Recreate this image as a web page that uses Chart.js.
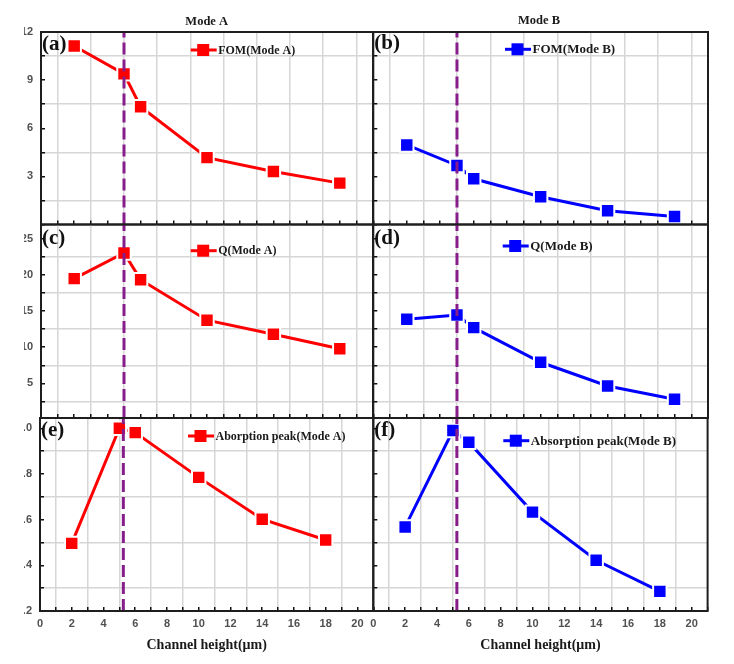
<!DOCTYPE html>
<html>
<head>
<meta charset="UTF-8" />
<title>Mode A / Mode B vs channel height</title>
<script src="https://cdn.jsdelivr.net/npm/chart.js"></script>
<style>
  html, body { margin: 0; padding: 0; background: #fff; }
  #wrap { position: relative; width: 734px; height: 664px; overflow: hidden; }
  #wrap canvas { position: absolute; left: 0; top: 0; }
</style>
</head>
<body>
<div id="wrap">
  <canvas id="pa" width="734" height="664"></canvas>
  <canvas id="pb" width="734" height="664"></canvas>
  <canvas id="pc" width="734" height="664"></canvas>
  <canvas id="pd" width="734" height="664"></canvas>
  <canvas id="pe" width="734" height="664"></canvas>
  <canvas id="pf" width="734" height="664"></canvas>
</div>
<script>
// channel heights (µm)
const heights = [2, 5, 6, 10, 14, 18];

// values
const fomA = [11.13, 9.39, 7.34, 4.17, 3.3, 2.58];
const fomB = [4.96, 3.68, 2.85, 1.73, 0.86, 0.5];
const qA = [19.5, 23.05, 19.36, 13.75, 11.8, 9.78];
const qB = [13.88, 14.47, 12.72, 7.92, 4.64, 2.8];
const absA = [0.496, 1.0, 0.981, 0.785, 0.602, 0.511];
const absB = [0.568, 0.99, 0.939, 0.633, 0.422, 0.286];

// ticks / labels / grid
const xTicksTop = [0, 1, 2, 3, 4, 5, 6, 7, 8, 9, 10, 11, 12, 13, 14, 15, 16, 17, 18, 19, 20];
const xTicksBottom = [0, 1, 2, 3, 4, 5, 6, 7, 8, 9, 10, 11, 12, 13, 14, 15, 16, 17, 18, 19, 20, 21];
const xLabels = [0, 2, 4, 6, 8, 10, 12, 14, 16, 18, 20];
const xGrid = [1, 3, 5, 7, 9, 11, 13, 15, 17, 19];

const fomTicks = [0, 1.5, 3, 4.5, 6, 7.5, 9, 10.5, 12];
const fomLabels = [3, 6, 9, 12];
const fomGrid = [1.5, 4.5, 7.5, 10.5];

const qTicks = [2.5, 5, 7.5, 10, 12.5, 15, 17.5, 20, 22.5, 25];
const qLabels = [5, 10, 15, 20, 25];
const qGrid = [2.5, 7.5, 12.5, 17.5, 22.5];

const absTicks = [0.2, 0.3, 0.4, 0.5, 0.6, 0.7, 0.8, 0.9, 1.0];
const absLabels = [0.2, 0.4, 0.6, 0.8, 1.0];
const absGrid = [0.3, 0.5, 0.7, 0.9];

// marker line (channel height where the peak occurs)
const markTop = 5;
const markBottom = 5.25;

const RED = '#ff0000';
const BLUE = '#0000ff';
const PURPLE = '#861d8a';
const GRID = '#d6d6d6';

// draws frame, panel tag, inline legend and column title
const decor = {
  id: 'decor',
  beforeDraw(chart, args, o) {
    const ctx = chart.ctx;
    ctx.save();
    if (o.clipLeft) {
      ctx.beginPath();
      ctx.rect(o.clipLeft, 0, chart.width, chart.height);
      ctx.clip();
    }
  },
  afterDraw(chart, args, o) {
    const ctx = chart.ctx;
    ctx.restore();
    const a = chart.chartArea;
    ctx.save();
    ctx.strokeStyle = '#1e1e1e';
    ctx.lineWidth = 2;
    ctx.strokeRect(a.left, a.top, a.right - a.left, a.bottom - a.top);

    ctx.fillStyle = '#111';
    ctx.textBaseline = 'middle';
    ctx.textAlign = 'left';
    ctx.font = 'bold 21px "Liberation Serif"';
    ctx.fillText(o.tag, a.left + 1, o.tagY);

    // legend: line + square + text
    ctx.strokeStyle = o.color;
    ctx.lineWidth = 3;
    ctx.beginPath();
    ctx.moveTo(o.lx, o.ly);
    ctx.lineTo(o.lx + 26, o.ly);
    ctx.stroke();
    ctx.fillStyle = o.color;
    ctx.fillRect(o.lx + 6.5, o.ly - 6, 12, 12);
    ctx.fillStyle = '#1a1a1a';
    ctx.font = o.legendFont;
    ctx.fillText(o.legend, o.lx + 27.5, o.ly + 0.5);

    if (o.title) {
      ctx.textAlign = 'center';
      ctx.font = 'bold 12.5px "Liberation Serif"';
      ctx.fillText(o.title, o.tx, o.ty);
    }
    ctx.restore();
  }
};

const panels = [
  { id: 'pa', vals: fomA, color: RED, yTicks: fomTicks, yLabels: fomLabels, yGrid: fomGrid, yMin: 0, yMax: 12,
    box: [41, 32, 373, 224.5], left: true, bottom: false, tag: '(a)', tagY: 44.5,
    legend: 'FOM(Mode A)', lx: 190.7, ly: 50, title: 'Mode A', tx: 206.7, ty: 21.7 },
  { id: 'pb', vals: fomB, color: BLUE, yTicks: fomTicks, yLabels: fomLabels, yGrid: fomGrid, yMin: 0, yMax: 12,
    box: [373.3, 32, 708, 224.5], left: false, bottom: false, tag: '(b)', tagY: 44,
    legend: 'FOM(Mode B)', lx: 505, ly: 49.3, title: 'Mode B', tx: 539, ty: 20.5 },
  { id: 'pc', vals: qA, color: RED, yTicks: qTicks, yLabels: qLabels, yGrid: qGrid, yMin: 0.2, yMax: 27,
    box: [41, 224.5, 373, 418], left: true, bottom: false, tag: '(c)', tagY: 239,
    legend: 'Q(Mode A)', lx: 190.7, ly: 250.7 },
  { id: 'pd', vals: qB, color: BLUE, yTicks: qTicks, yLabels: qLabels, yGrid: qGrid, yMin: 0.2, yMax: 27,
    box: [373.3, 224.5, 708, 418], left: false, bottom: false, tag: '(d)', tagY: 239,
    legend: 'Q(Mode B)', lx: 502.7, ly: 246 },
  { id: 'pe', vals: absA, color: RED, yTicks: absTicks, yLabels: absLabels, yGrid: absGrid, yMin: 0.2, yMax: 1.045,
    box: [40, 418, 373.3, 611], left: true, bottom: true, tag: '(e)', tagY: 430.5,
    legend: 'Aborption peak(Mode A)', lx: 188, ly: 436 },
  { id: 'pf', vals: absB, color: BLUE, yTicks: absTicks, yLabels: absLabels, yGrid: absGrid, yMin: 0.2, yMax: 1.045,
    box: [373.3, 418, 707.6, 611], left: false, bottom: true, tag: '(f)', tagY: 431,
    legend: 'Absorption peak(Mode B)', lx: 503.3, ly: 440.7 }
];

function makePanel(p) {
  const [L, T, R, B] = p.box;
  const yw = p.left ? L : 0;
  const xh = p.bottom ? 49 : 0;
  const xTicks = p.bottom ? xTicksBottom : xTicksTop;
  const xMax = p.bottom ? 21 : 20;
  const markX = p.bottom ? markBottom : markTop;
  const isAbs = p.yTicks === absTicks;

  new Chart(document.getElementById(p.id), {
    type: 'line',
    data: {
      datasets: [{
        data: [{ x: markX, y: p.yMin }, { x: markX, y: p.yMax }],
        borderColor: PURPLE,
        borderWidth: 3,
        borderDash: [12, 5],
        pointRadius: 0,
        order: 0
      }, {
        data: heights.map((h, i) => ({ x: h, y: p.vals[i] })),
        borderColor: p.color,
        backgroundColor: p.color,
        borderWidth: 3,
        tension: 0,
        pointStyle: 'rect',
        pointRadius: 9.5,
        pointBackgroundColor: p.color,
        pointBorderColor: '#ffffff',
        pointBorderWidth: 2,
        order: 1
      }]
    },
    options: {
      responsive: false,
      animation: false,
      devicePixelRatio: 1,
      events: [],
      layout: {
        autoPadding: false,
        padding: { left: L - yw, top: T, right: 734 - R, bottom: 664 - B - xh }
      },
      plugins: {
        legend: { display: false },
        tooltip: { enabled: false },
        decor: {
          clipLeft: p.left ? 24 : 0,
          tag: p.tag, tagY: p.tagY,
          legend: p.legend, lx: p.lx, ly: p.ly, color: p.color,
          legendFont: p.color === RED ? 'bold 12px "Liberation Serif"' : 'bold 13px "Liberation Serif"',
          title: p.title || '', tx: p.tx, ty: p.ty
        }
      },
      scales: {
        x: {
          type: 'linear',
          min: 0,
          max: xMax,
          afterBuildTicks: s => { s.ticks = xTicks.map(v => ({ value: v })); },
          afterFit: s => { s.height = xh; },
          border: { display: false },
          grid: {
            color: c => (c.tick && xGrid.includes(c.tick.value)) ? GRID : 'rgba(0,0,0,0)',
            lineWidth: 1.5,
            tickLength: -4,
            tickColor: '#111',
            tickWidth: 1.5
          },
          ticks: {
            display: p.bottom,
            autoSkip: false,
            maxRotation: 0,
            padding: 10,
            color: '#505050',
            font: { family: 'Liberation Sans', weight: 'bold', size: 11 },
            callback: v => xLabels.includes(v) ? String(v) : ''
          },
          title: {
            display: p.bottom,
            text: 'Channel height(μm)',
            color: '#1a1a1a',
            font: { family: 'Liberation Serif', weight: 'bold', size: 14 },
            padding: { top: 0, bottom: 6.6 }
          }
        },
        y: {
          type: 'linear',
          min: p.yMin,
          max: p.yMax,
          afterBuildTicks: s => { s.ticks = p.yTicks.map(v => ({ value: v })); },
          afterFit: s => { s.width = yw; },
          border: { display: false },
          grid: {
            color: c => (c.tick && p.yGrid.includes(c.tick.value)) ? GRID : 'rgba(0,0,0,0)',
            lineWidth: 1.5,
            tickLength: -4,
            tickColor: '#111',
            tickWidth: 1.5
          },
          ticks: {
            display: p.left,
            autoSkip: false,
            padding: 12,
            color: '#505050',
            font: { family: 'Liberation Sans', weight: 'bold', size: 11 },
            callback: v => p.yLabels.includes(v) ? (isAbs ? v.toFixed(1) : String(v)) : ''
          }
        }
      }
    },
    plugins: [decor]
  });
}

panels.forEach(makePanel);
</script>
</body>
</html>
